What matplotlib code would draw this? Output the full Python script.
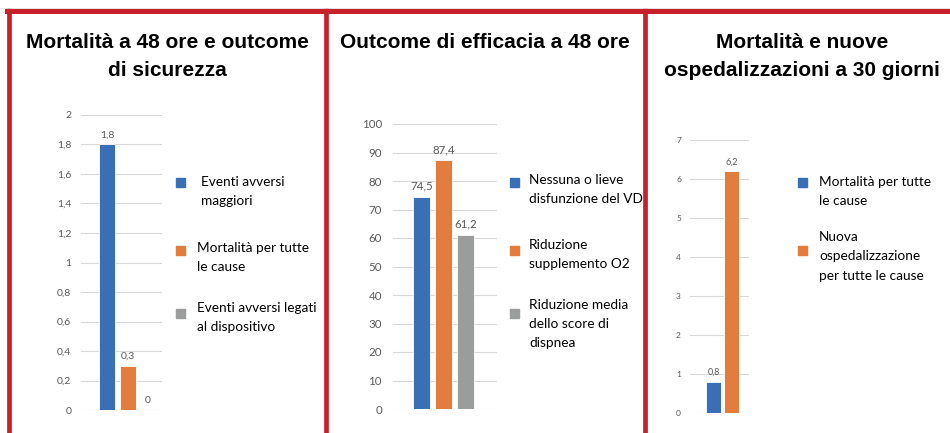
import matplotlib
matplotlib.use("Agg")
import matplotlib.pyplot as plt
from matplotlib.lines import Line2D
from matplotlib.patches import Rectangle

W, H = 950, 433

BLUE = "#3a6fb6"
ORANGE = "#e27d3d"
GRAY = "#9b9d9d"
RED = "#c8202a"
GRID = "#d9d9d9"
LABEL_GRAY = "#595959"

# panel 1
titles_1 = ["Mortalità a 48 ore e outcome", "di sicurezza"]
labels_1 = ["Eventi avversi\nmaggiori", "Mortalità per tutte\nle cause", "Eventi avversi legati\nal dispositivo"]
values_1 = [1.8, 0.3, 0.0]
ticks_1 = [0, 0.2, 0.4, 0.6, 0.8, 1, 1.2, 1.4, 1.6, 1.8, 2]

# panel 2
titles_2 = ["Outcome di efficacia a 48 ore"]
labels_2 = ["Nessuna o lieve\ndisfunzione del VD", "Riduzione\nsupplemento O2", "Riduzione media\ndello score di\ndispnea"]
values_2 = [74.5, 87.4, 61.2]
ticks_2 = [0, 10, 20, 30, 40, 50, 60, 70, 80, 90, 100]

# panel 3
titles_3 = ["Mortalità e nuove", "ospedalizzazioni a 30 giorni"]
labels_3 = ["Mortalità per tutte\nle cause", "Nuova\nospedalizzazione\nper tutte le cause"]
values_3 = [0.8, 6.2]
ticks_3 = [0, 1, 2, 3, 4, 5, 6, 7]

colors = [BLUE, ORANGE, GRAY]


def fx(x):
    return x / W


def fy(y):
    return 1 - y / H


def fmt(v):
    s = ("%g" % v).replace(".", ",")
    return s


fig = plt.figure(figsize=(W / 100, H / 100), dpi=100)

# red frames
for x in [8.5, 325.5, 644.5]:
    fig.add_artist(Line2D([fx(x), fx(x)], [fy(10), 0], color=RED, lw=3.4, transform=fig.transFigure))
fig.add_artist(Line2D([fx(6.5), 1], [fy(11), fy(11)], color=RED, lw=3.6, transform=fig.transFigure))
fig.add_artist(Line2D([0, 1], [fy(7.5), fy(7.5)], color="#dddddd", lw=0.6, transform=fig.transFigure))


def panel(box, xlim, values, ticks, ymax, width, tick_fs, val_fs, pad,
          titles, title_x, title_ys,
          labels, sq_x, text_xs, sq_ys, line_ys, step):
    x0, x1, ytop, ybot = box
    ax = fig.add_axes([fx(x0), fy(ybot), fx(x1) - fx(x0), fy(ytop) - fy(ybot)])
    xs = list(range(len(values)))
    ax.bar(xs, values, width=width, color=colors[:len(values)], edgecolor="white", linewidth=0.6, zorder=3)
    for x, v in zip(xs, values):
        ax.annotate(fmt(v), (x, v), xytext=(0, 3.5), textcoords="offset points",
                    ha="center", va="bottom", fontsize=val_fs, color=LABEL_GRAY, family="Lato")
    ax.set_xlim(*xlim)
    ax.set_ylim(0, ymax)
    ax.set_yticks(ticks)
    ax.set_yticklabels([fmt(t) for t in ticks], fontsize=tick_fs, color=LABEL_GRAY, family="Lato")
    ax.tick_params(axis="y", length=0, pad=pad)
    ax.set_xticks([])
    ax.grid(axis="y", color=GRID, lw=0.8, zorder=0)
    for s in ax.spines.values():
        s.set_visible(False)
    ax.patch.set_alpha(0)

    for t, y in zip(titles, title_ys):
        fig.text(fx(title_x), fy(y), t, ha="center", va="center", fontsize=15,
                 fontweight="bold", family="Liberation Sans")

    for i, lab in enumerate(labels):
        fig.add_artist(Rectangle((fx(sq_x), fy(sq_ys[i] + 4.5)), fx(9), 9 / H,
                                 color=colors[i], transform=fig.transFigure))
        for j, line in enumerate(lab.split("\n")):
            fig.text(fx(text_xs[i]), fy(line_ys[i] + j * step), line, ha="left", va="center",
                     fontsize=9.8, family="Lato")
    return ax


panel((81, 162, 115, 410), (-1.27, 2.68), values_1, ticks_1, 2, 0.78, 7.5, 7.5, 7,
      titles_1, 167, [43, 70],
      labels_1, 176, [201, 197, 197], [183, 251, 313], [182, 248, 308], 19)

panel((393, 497, 124, 409), (-1.3, 3.43), values_2, ticks_2, 100, 0.77, 8.3, 8.3, 8,
      titles_2, 485, [42],
      labels_2, 510, [529, 529, 529], [183, 251, 313], [180, 245, 305], 19)

panel((690, 749, 140, 413), (-1.31, 1.97), values_3, ticks_3, 7, 0.83, 6, 6.5, 6.5,
      titles_3, 802, [42, 70],
      labels_3, 798, [819, 819], [183, 251], [182, 237], 19.5)

fig.savefig("out.png", dpi=100)
